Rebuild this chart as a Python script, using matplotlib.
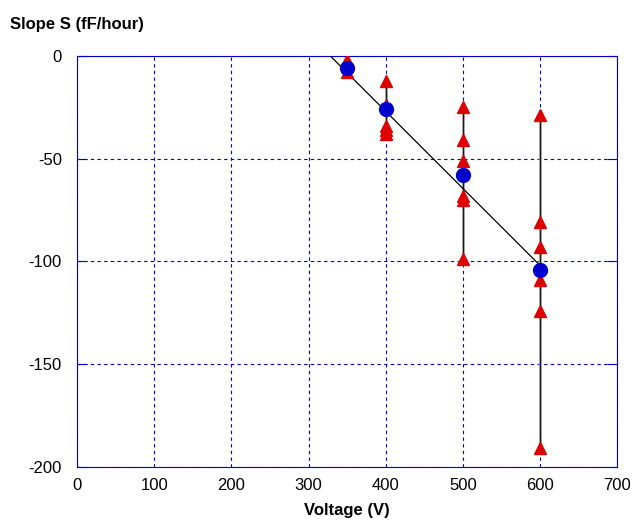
import numpy as np
import matplotlib.pyplot as plt

plt.rcParams['font.family'] = ['Liberation Sans', 'DejaVu Sans']
plt.rcParams['axes.unicode_minus'] = False

# individual slope measurements (triangles)
volt_pts = [350, 350, 400, 400, 400, 400, 400,
            500, 500, 500, 500, 500, 500,
            600, 600, 600, 600, 600, 600]
slope_pts = [-2, -8, -12, -24, -34, -36, -38,
             -25, -41, -51, -68, -70, -99,
             -29, -81, -93, -109, -124, -191]

# mean slope per voltage (circles)
volt_mean = [350, 400, 500, 600]
slope_mean = [-6, -26, -58, -104]

# linear fit end points
fit_v = [328, 600]
fit_s = [0, -102]

fig = plt.figure(figsize=(6.37, 5.27), dpi=100)
ax = fig.add_axes([0.121, 0.114, 0.848, 0.78])

# vertical range lines for each voltage
for v in volt_mean:
    s = [y for x, y in zip(volt_pts, slope_pts) if x == v]
    ax.plot([v, v], [min(s), max(s)], color='#999999', lw=2, zorder=2)
    ax.plot([v, v], [min(s), max(s)], color='black', lw=0.6, zorder=2)

ax.plot(fit_v, fit_s, color='black', lw=0.9, zorder=3)
ax.plot(volt_pts, slope_pts, linestyle='none', marker='^', color='#dd0000',
        markersize=8, zorder=4)
ax.plot(volt_mean, slope_mean, linestyle='none', marker='o', color='#0000cc',
        markersize=10, zorder=5)

ax.set_xlim(0, 700)
ax.set_ylim(-200, 0)
ax.set_xticks(range(0, 701, 100))
ax.set_yticks(range(-200, 1, 50))
ax.grid(True, color='#0000cc', linestyle=(0, (3, 3)), lw=0.8)
for sp in ax.spines.values():
    sp.set_color('#0000cc')
ax.tick_params(axis='x', length=0, labelsize=12, pad=8)
ax.tick_params(axis='y', direction='in', length=7, color='#0000cc',
               left=True, right=True, labelsize=12, pad=11)

ax.set_xlabel('Voltage (V)', fontsize=12, fontweight='bold', labelpad=7)
fig.text(0.015, 0.945, 'Slope S (fF/hour)', fontsize=12, fontweight='bold')

fig.savefig('out.png', dpi=100)
